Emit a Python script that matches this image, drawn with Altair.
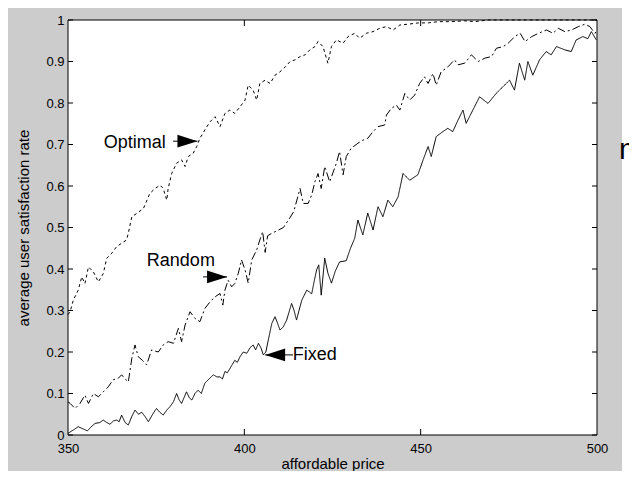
import altair as alt
import pandas as pd

W, H = 529, 415
FONT = "Liberation Sans, Arial, sans-serif"

# ---------------- data ----------------
opt_price = [350.0, 350.6, 351.5, 352.9, 353.9, 354.8, 355.8, 357.2, 358.6, 360.0,
             361.0, 362.4, 363.8, 365.2, 366.6, 367.1, 368.1, 369.5, 371.4, 373.2,
             374.7, 376.1, 377.0, 378.0, 378.4, 379.4, 380.8, 382.2, 383.2, 384.1,
             385.5, 386.5, 387.4, 388.8, 390.3, 391.7, 393.1, 394.5, 395.9, 397.3,
             398.8, 400.2, 401.1, 402.5, 403.5, 404.4, 405.9, 407.3, 408.7, 410.1,
             411.6, 413.0, 414.4, 415.8, 417.2, 418.6, 420.0, 420.9, 422.3, 423.7,
             424.7, 426.1, 428.0, 429.4, 431.3, 432.7, 434.6, 436.5, 438.4, 440.3,
             442.2, 444.1, 446.5, 449.3, 452.1, 455.0, 458.7, 462.5, 465.4, 469.1,
             475.0, 480.0, 490.0, 500.0]
opt_rate = [0.290, 0.297, 0.325, 0.349, 0.381, 0.365, 0.405, 0.393, 0.369, 0.389,
            0.426, 0.438, 0.454, 0.462, 0.470, 0.486, 0.526, 0.534, 0.546, 0.582,
            0.594, 0.602, 0.594, 0.566, 0.594, 0.630, 0.655, 0.663, 0.647, 0.671,
            0.679, 0.695, 0.715, 0.735, 0.755, 0.767, 0.743, 0.775, 0.783, 0.775,
            0.791, 0.807, 0.843, 0.831, 0.807, 0.847, 0.855, 0.847, 0.867, 0.875,
            0.887, 0.900, 0.904, 0.912, 0.916, 0.928, 0.936, 0.948, 0.936, 0.896,
            0.936, 0.952, 0.944, 0.960, 0.968, 0.956, 0.968, 0.972, 0.980, 0.984,
            0.976, 0.988, 0.990, 0.993, 0.993, 0.996, 0.996, 0.998, 0.996, 1.000,
            1.000, 1.000, 1.000, 1.000]

rnd_price = [350.0, 350.6, 352.0, 353.4, 354.8, 355.8, 357.2, 358.6, 360.0, 361.4,
             362.8, 364.3, 365.2, 366.2, 367.1, 368.1, 369.0, 369.9, 371.1, 372.3,
             373.7, 375.6, 377.0, 378.4, 379.9, 381.3, 382.2, 383.2, 384.6, 386.0,
             387.4, 388.8, 390.3, 391.7, 393.1, 393.9, 394.5, 395.4, 396.4, 397.3,
             398.3, 399.2, 400.2, 401.1, 402.1, 403.5, 404.4, 405.2, 405.9, 406.6,
             407.8, 409.7, 411.1, 412.5, 414.0, 414.9, 415.8, 416.7, 418.1, 419.1,
             420.0, 420.9, 421.8, 422.8, 424.2, 426.1, 427.0, 428.0, 428.9, 430.3,
             432.2, 433.5, 435.0, 436.5, 437.9, 439.8, 440.3, 441.7, 443.1, 444.1,
             445.5, 446.9, 448.3, 449.7, 451.1, 452.1, 453.5, 454.4, 455.8, 457.7,
             459.6, 460.6, 462.5, 464.4, 466.3, 468.2, 470.1, 471.5, 473.4, 474.8,
             476.7, 478.2, 479.6, 481.5, 483.4, 485.7, 487.5, 489.0, 490.9, 492.8,
             494.7, 496.6, 498.0, 499.4, 500.0]
rnd_rate = [0.080, 0.076, 0.064, 0.076, 0.096, 0.076, 0.100, 0.092, 0.104, 0.116,
            0.133, 0.137, 0.145, 0.135, 0.128, 0.185, 0.217, 0.189, 0.180, 0.169,
            0.205, 0.200, 0.217, 0.225, 0.221, 0.257, 0.225, 0.265, 0.297, 0.281,
            0.273, 0.305, 0.321, 0.333, 0.341, 0.313, 0.349, 0.373, 0.357, 0.365,
            0.390, 0.422, 0.398, 0.366, 0.422, 0.446, 0.470, 0.490, 0.440, 0.480,
            0.486, 0.494, 0.500, 0.518, 0.538, 0.566, 0.594, 0.558, 0.558, 0.578,
            0.610, 0.630, 0.594, 0.647, 0.610, 0.655, 0.683, 0.627, 0.671, 0.691,
            0.703, 0.710, 0.715, 0.731, 0.743, 0.747, 0.771, 0.787, 0.795, 0.783,
            0.823, 0.807, 0.819, 0.847, 0.863, 0.847, 0.871, 0.843, 0.875, 0.887,
            0.904, 0.892, 0.896, 0.916, 0.900, 0.908, 0.912, 0.932, 0.936, 0.944,
            0.960, 0.968, 0.948, 0.960, 0.968, 0.976, 0.968, 0.980, 0.972, 0.976,
            0.984, 0.990, 0.984, 0.968, 0.975]

fix_price = [350.0, 351.5, 352.9, 354.2, 355.5, 356.6, 357.7, 359.0, 360.0, 361.0,
             361.9, 362.9, 363.8, 364.5, 365.2, 366.2, 367.1, 368.1, 369.0, 370.0,
             370.9, 371.8, 372.8, 374.0, 375.1, 376.0, 377.0, 378.0, 378.9, 379.9,
             380.8, 381.5, 382.2, 383.6, 384.4, 385.1, 386.0, 386.9, 387.8, 388.8,
             390.0, 391.2, 392.2, 393.1, 393.8, 394.5, 395.2, 395.9, 396.6, 397.3,
             398.0, 398.8, 399.7, 400.7, 401.6, 402.5, 403.2, 404.0, 404.7, 405.4,
             406.1, 406.8, 407.8, 408.7, 409.4, 410.1, 411.0, 412.0, 413.4, 414.1,
             414.8, 415.5, 416.3, 417.7, 418.4, 419.1, 419.8, 420.5, 421.1, 421.8,
             422.8, 423.7, 424.7, 425.8, 427.0, 428.9, 430.1, 431.3, 432.2, 433.6,
             435.0, 436.5, 437.9, 439.3, 440.7, 442.1, 443.6, 445.0, 446.9, 449.2,
             450.7, 452.1, 453.0, 454.4, 456.3, 457.7, 459.1, 460.6, 462.0, 462.9,
             464.8, 466.7, 469.1, 471.4, 473.3, 475.2, 476.6, 478.0, 479.5, 480.4,
             481.8, 483.7, 485.6, 487.0, 488.5, 490.9, 492.7, 494.1, 496.0, 497.4,
             498.4, 499.8]
fix_rate = [0.004, 0.012, 0.020, 0.015, 0.010, 0.020, 0.028, 0.030, 0.036, 0.030,
            0.026, 0.034, 0.036, 0.032, 0.048, 0.030, 0.024, 0.045, 0.060, 0.050,
            0.055, 0.045, 0.032, 0.050, 0.064, 0.055, 0.048, 0.060, 0.068, 0.080,
            0.100, 0.085, 0.076, 0.104, 0.090, 0.084, 0.100, 0.108, 0.100, 0.125,
            0.135, 0.145, 0.140, 0.140, 0.135, 0.153, 0.150, 0.160, 0.170, 0.180,
            0.175, 0.189, 0.200, 0.197, 0.210, 0.217, 0.205, 0.221, 0.210, 0.193,
            0.200, 0.229, 0.269, 0.285, 0.270, 0.253, 0.260, 0.277, 0.317, 0.300,
            0.277, 0.300, 0.325, 0.349, 0.345, 0.340, 0.370, 0.398, 0.410, 0.337,
            0.426, 0.390, 0.366, 0.395, 0.417, 0.420, 0.450, 0.474, 0.518, 0.482,
            0.535, 0.494, 0.550, 0.526, 0.566, 0.550, 0.574, 0.630, 0.614, 0.627,
            0.663, 0.695, 0.671, 0.719, 0.731, 0.739, 0.731, 0.759, 0.783, 0.751,
            0.783, 0.815, 0.799, 0.823, 0.839, 0.855, 0.831, 0.896, 0.855, 0.900,
            0.867, 0.904, 0.924, 0.916, 0.936, 0.928, 0.924, 0.952, 0.960, 0.955,
            0.972, 0.952]

series_names = ["Optimal", "Random", "Fixed"]

x_tick_values = [350, 400, 450, 500]
x_inner_ticks = [400, 450]
y_tick_values = [0, 0.1, 0.2, 0.3, 0.4, 0.5, 0.6, 0.7, 0.8, 0.9, 1]

ann_label = ["Optimal", "Random", "Fixed"]
ann_text_price = [368.9, 382.0, 420.0]
ann_text_rate = [0.704, 0.419, 0.193]
ann_tip_price = [386.7, 395.1, 405.9]
ann_tip_rate = [0.708, 0.381, 0.193]
ann_tail_price = [379.8, 388.3, 413.8]
ann_dir = ["right", "right", "left"]

# ---------------- tables ----------------
rows = []
for name, ps, rs in zip(series_names, [opt_price, rnd_price, fix_price],
                        [opt_rate, rnd_rate, fix_rate]):
    rows += [{"series": name, "price": p, "rate": r} for p, r in zip(ps, rs)]
lines_df = pd.DataFrame(rows)

ann_df = pd.DataFrame({
    "label": ann_label, "tx": ann_text_price, "ty": ann_text_rate,
    "px": ann_tip_price, "py": ann_tip_rate, "qx": ann_tail_price, "dir": ann_dir,
})
yt_df = pd.DataFrame({"v": y_tick_values})
xt_df = pd.DataFrame({"p": x_inner_ticks})
one = alt.Data(values=[{"k": 0}])

xs = alt.Scale(domain=[350, 500], nice=False, zero=False)
ys = alt.Scale(domain=[0, 1], nice=False, zero=False)

XAX = alt.Axis(
    values=x_tick_values, format="d", title="affordable price",
    ticks=False, domain=False, grid=False, labelFlush=False, labelOverlap=False,
    labelPadding=7, labelFontSize=13, labelFont=FONT, labelColor="black",
    titleFont=FONT, titleFontSize=15, titleFontWeight="normal", titleColor="black",
    titleY=33, titleBaseline="alphabetic", zindex=1)
YAX = alt.Axis(
    values=y_tick_values, format="~g", title="average user satisfaction rate",
    ticks=False, domain=False, grid=False, labelOverlap=False,
    labelPadding=4, labelFontSize=13, labelFont=FONT, labelColor="black",
    titleFont=FONT, titleFontSize=15, titleFontWeight="normal", titleColor="black",
    titleX=-45, titleY=H / 2, titleAngle=270, titleBaseline="middle", zindex=1)

# ---------------- decoration ----------------
gray = alt.Chart(one).mark_rect(color="#cccccc").encode(
    x=alt.value(-60), x2=alt.value(554), y=alt.value(-12), y2=alt.value(460))
white = alt.Chart(one).mark_rect(color="white").encode(
    x=alt.value(0), x2=alt.value(W), y=alt.value(0), y2=alt.value(H))
frame = alt.Chart(one).mark_rect(fillOpacity=0, stroke="black", strokeWidth=1).encode(
    x=alt.value(0), x2=alt.value(W), y=alt.value(0), y2=alt.value(H))

# ---------------- lines ----------------
lines = alt.Chart(lines_df).mark_line(color="black", strokeWidth=1).encode(
    x=alt.X("price:Q", scale=xs, axis=XAX),
    y=alt.Y("rate:Q", scale=ys, axis=YAX),
    strokeDash=alt.StrokeDash("series:N", scale=alt.Scale(
        domain=series_names, range=[[3, 3], [8, 3, 2, 3], [1, 0]]), legend=None),
    order=alt.Order("price:Q"),
)

ytl = alt.Chart(yt_df).mark_rule(color="black").encode(
    y=alt.Y("v:Q", scale=ys, axis=YAX), x=alt.value(0), x2=alt.value(5))
ytr = alt.Chart(yt_df).mark_rule(color="black").encode(
    y=alt.Y("v:Q", scale=ys, axis=YAX), x=alt.value(W - 5), x2=alt.value(W))
xtb = alt.Chart(xt_df).mark_rule(color="black").encode(
    x=alt.X("p:Q", scale=xs, axis=XAX), y=alt.value(H - 6), y2=alt.value(H))
xtt = alt.Chart(xt_df).mark_rule(color="black").encode(
    x=alt.X("p:Q", scale=xs, axis=XAX), y=alt.value(0), y2=alt.value(6))

# ---------------- annotations ----------------
shafts = alt.Chart(ann_df).mark_rule(color="black", strokeWidth=1).encode(
    x=alt.X("qx:Q", scale=xs, axis=XAX), x2="px:Q",
    y=alt.Y("py:Q", scale=ys, axis=YAX))
heads = alt.Chart(ann_df).mark_point(filled=True, color="black", opacity=1, size=1600,
                                     strokeWidth=0).encode(
    x=alt.X("px:Q", scale=xs, axis=XAX), y=alt.Y("py:Q", scale=ys, axis=YAX),
    shape=alt.Shape("dir:N", scale=alt.Scale(
        domain=["right", "left"],
        range=["M0,0L-1,-0.32L-1,0.32Z", "M0,0L1,-0.32L1,0.32Z"]), legend=None))
texts = alt.Chart(ann_df).mark_text(font=FONT, fontSize=18, color="black",
                                    align="center", baseline="middle").encode(
    x=alt.X("tx:Q", scale=xs, axis=XAX), y=alt.Y("ty:Q", scale=ys, axis=YAX),
    text="label:N")

stray = alt.Chart(one).mark_text(text="m", font=FONT, fontSize=30, color="black",
                                 align="left", baseline="alphabetic").encode(
    x=alt.value(551), y=alt.value(139))

chart = alt.layer(gray, white, lines, ytl, ytr, xtb, xtt, shafts, heads, texts,
                  frame, stray).properties(
    width=W, height=H,
    autosize=alt.AutoSizeParams(type="none"),
    padding={"left": 60, "top": 12, "right": 32, "bottom": 36},
    background="white",
).configure_view(strokeWidth=0)

chart.save("out.html", embed_options={"renderer": "svg", "actions": False})
